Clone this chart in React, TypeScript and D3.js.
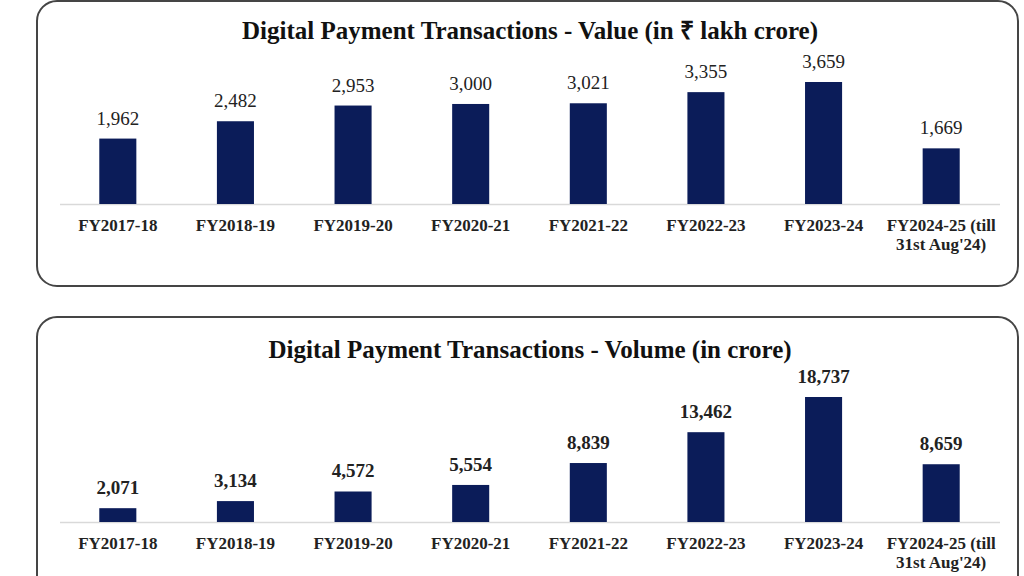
import { FC, useEffect, useRef } from "react";
import * as d3 from "d3";

const categories = [
  "FY2017-18",
  "FY2018-19",
  "FY2019-20",
  "FY2020-21",
  "FY2021-22",
  "FY2022-23",
  "FY2023-24",
  "FY2024-25 (till\n31st Aug'24)",
];

const valueSeries = [1962, 2482, 2953, 3000, 3021, 3355, 3659, 1669];
const volumeSeries = [2071, 3134, 4572, 5554, 8839, 13462, 18737, 8659];

const valueTitle = "Digital Payment Transactions - Value (in ₹ lakh crore)";
const volumeTitle = "Digital Payment Transactions - Volume (in crore)";

const W = 1024,
  H = 576;
const FONT = "'Liberation Serif', 'Times New Roman', serif";
const BAR = "#0b1c59";

type PanelCfg = {
  title: string;
  values: number[];
  top: number; // panel top y
  titleY: number;
  baseline: number;
  maxH: number; // px height of the largest bar
  boldLabels: boolean;
};

const panels: PanelCfg[] = [
  { title: valueTitle, values: valueSeries, top: 1, titleY: 39, baseline: 204, maxH: 122, boldLabels: false },
  { title: volumeTitle, values: volumeSeries, top: 317, titleY: 358, baseline: 522, maxH: 125, boldLabels: true },
];

const App: FC = () => {
  const ref = useRef<SVGSVGElement>(null);

  useEffect(() => {
    const svg = d3.select(ref.current);
    svg.selectAll("*").remove();

    const x = d3
      .scaleBand()
      .domain(categories)
      .range([59, 1000])
      .paddingInner(0.685)
      .paddingOuter(0.685 / 2);

    panels.forEach((p) => {
      const g = svg.append("g");

      // panel frame
      g.append("rect")
        .attr("x", 37)
        .attr("y", p.top)
        .attr("width", 981)
        .attr("height", p.top < 100 ? 285 : 300)
        .attr("rx", 20)
        .attr("fill", "white")
        .attr("stroke", "#454545")
        .attr("stroke-width", 2);

      g.append("text")
        .attr("x", 530)
        .attr("y", p.titleY)
        .attr("text-anchor", "middle")
        .attr("font-family", FONT)
        .attr("font-weight", "bold")
        .attr("font-size", 25)
        .attr("fill", "#111")
        .text(p.title);

      const y = d3
        .scaleLinear()
        .domain([0, d3.max(p.values) as number])
        .range([p.baseline, p.baseline - p.maxH]);

      // axis line
      g.append("line")
        .attr("x1", 60)
        .attr("x2", 1000)
        .attr("y1", p.baseline + 0.5)
        .attr("y2", p.baseline + 0.5)
        .attr("stroke", "#d9d9d9")
        .attr("stroke-width", 1.5);

      p.values.forEach((v, i) => {
        const c = categories[i];
        g.append("rect")
          .attr("x", x(c) as number)
          .attr("y", y(v))
          .attr("width", x.bandwidth())
          .attr("height", p.baseline - y(v))
          .attr("fill", BAR);

        g.append("text")
          .attr("x", (x(c) as number) + x.bandwidth() / 2)
          .attr("y", y(v) - 14)
          .attr("text-anchor", "middle")
          .attr("font-family", FONT)
          .attr("font-weight", p.boldLabels ? "bold" : "normal")
          .attr("font-size", 19)
          .attr("fill", "#222")
          .text(d3.format(",")(v));
      });

      // category labels
      const axis = g.append("g");
      categories.forEach((c) => {
        const t = axis
          .append("text")
          .attr("x", (x(c) as number) + x.bandwidth() / 2)
          .attr("y", p.baseline + 27)
          .attr("text-anchor", "middle")
          .attr("font-family", FONT)
          .attr("font-weight", "bold")
          .attr("font-size", 17)
          .attr("fill", "#222");
        c.split("\n").forEach((line, k) => {
          t.append("tspan")
            .attr("x", (x(c) as number) + x.bandwidth() / 2)
            .attr("dy", k === 0 ? 0 : 19)
            .text(line);
        });
      });
    });
  }, []);

  return (
    <svg
      ref={ref}
      width={W}
      height={H}
      style={{ position: "absolute", left: 0, top: 0, background: "white" }}
    />
  );
};

export default App;
